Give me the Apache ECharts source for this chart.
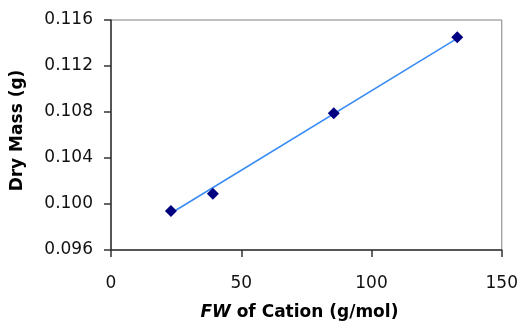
<!DOCTYPE html>
<html>
<head>
<meta charset="utf-8">
<style>
  html, body { margin: 0; padding: 0; background: #fff; }
  #chart { width: 521px; height: 326px; }
</style>
<script src="https://cdn.jsdelivr.net/npm/echarts@6/dist/echarts.min.js"></script>
</head>
<body>
<div id="chart"></div>
<script>
// Formula weight of each cation (g/mol) and the measured dry mass (g)
const formulaWeights = [23.0, 39.1, 85.5, 132.9];
const dryMasses = [0.0994, 0.1009, 0.1079, 0.1145];

// End points of the fitted trend line
const trendX = [23.0, 132.9];
const trendY = [0.0992, 0.1144];

// Axis ranges and tick steps
const xTicks = [0, 50, 100, 150];
const yTicks = [0.096, 0.100, 0.104, 0.108, 0.112, 0.116];

const chart = echarts.init(document.getElementById('chart'));

const labelFont = { color: '#111', fontFamily: 'DejaVu Sans', fontSize: 17 };
const titleFont = { color: '#000', fontFamily: 'DejaVu Sans', fontSize: 17, fontWeight: 'bold' };

chart.setOption({
  animation: false,
  backgroundColor: '#fff',
  grid: {
    left: 111, top: 20, right: 18, bottom: 75,
    show: true, borderColor: '#808080', borderWidth: 1, backgroundColor: '#fff'
  },
  xAxis: {
    type: 'value',
    min: xTicks[0], max: xTicks[xTicks.length - 1], interval: xTicks[1] - xTicks[0],
    axisLine: { show: true, onZero: false, lineStyle: { color: '#333', width: 1.5 } },
    axisTick: { show: true, length: 7, lineStyle: { color: '#333', width: 1.5 } },
    splitLine: { show: false },
    axisLabel: Object.assign({ margin: 25 }, labelFont),
    name: '{i|FW} of Cation (g/mol)',
    nameLocation: 'middle',
    nameGap: 54,
    nameTextStyle: Object.assign({
      padding: [0, 14, 0, 0],
      rich: { i: Object.assign({ fontStyle: 'italic' }, titleFont) }
    }, titleFont)
  },
  yAxis: {
    type: 'value',
    min: yTicks[0], max: yTicks[yTicks.length - 1], interval: 0.004,
    axisLine: { show: true, onZero: false, lineStyle: { color: '#333', width: 1.5 } },
    axisTick: { show: true, length: 7, lineStyle: { color: '#333', width: 1.5 } },
    splitLine: { show: false },
    axisLabel: Object.assign({ margin: 18, formatter: v => v.toFixed(3) }, labelFont),
    name: 'Dry Mass (g)',
    nameLocation: 'middle',
    nameGap: 85,
    nameTextStyle: Object.assign({ padding: [0, 0, 0, 9] }, titleFont)
  },
  series: [
    {
      type: 'line',
      data: trendX.map((x, i) => [x, trendY[i]]),
      symbol: 'none',
      lineStyle: { color: '#3a8cf5', width: 1.6 },
      z: 2
    },
    {
      type: 'scatter',
      data: formulaWeights.map((x, i) => [x, dryMasses[i]]),
      symbol: 'diamond',
      symbolSize: [12, 12],
      itemStyle: { color: '#000080', opacity: 1 },
      z: 3
    }
  ]
});
</script>
</body>
</html>
